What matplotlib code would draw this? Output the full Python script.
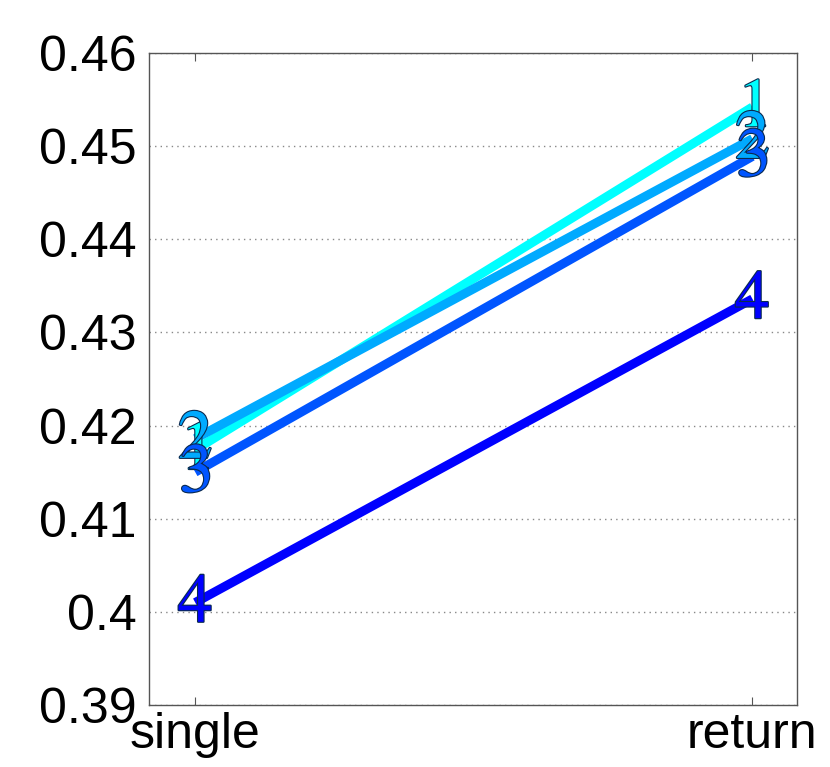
import matplotlib
matplotlib.use("Agg")
import matplotlib.pyplot as plt
import matplotlib.patheffects as pe

plt.rcParams["mathtext.fontset"] = "stix"

categories = ["single", "return"]
series_labels = ["1", "2", "3", "4"]
series_values = [
    [0.4174, 0.4542],
    [0.4186, 0.4508],
    [0.4150, 0.4489],
    [0.4010, 0.4336],
]
colors = ["#00ffff", "#00aaff", "#0055ff", "#0000ff"]
yticks = [0.39, 0.40, 0.41, 0.42, 0.43, 0.44, 0.45, 0.46]
ytick_labels = ["0.39", "0.4", "0.41", "0.42", "0.43", "0.44", "0.45", "0.46"]

fig = plt.figure(figsize=(8.30, 7.67), dpi=100)
ax = fig.add_axes([149/830, 1-705/767, (797-149)/830, (705-53)/767])

xs = [1, 2]
for vals, lab, col in zip(series_values, series_labels, colors):
    ax.plot(xs, vals, color=col, lw=6.5, solid_capstyle="butt", zorder=3)
for vals, lab, col in zip(series_values, series_labels, colors):
    for x, v in zip(xs, vals):
        ax.text(x, v, r"$\mathrm{" + lab + "}$", color=col, fontsize=50,
                ha="center", va="center", zorder=4,
                path_effects=[pe.Stroke(linewidth=1.6, foreground="#0a2a50"), pe.Normal()])

ax.set_xlim(0.917, 2.08)
ax.set_ylim(0.39, 0.46)
ax.set_xticks(xs)
ax.set_xticklabels(categories)
ax.set_yticks(yticks)
ax.set_yticklabels(ytick_labels)
ax.yaxis.grid(True, linestyle=(0, (1, 3)), color="#888888", lw=1)
ax.set_axisbelow(True)
ax.tick_params(axis="both", direction="in", length=6, width=0.8, color="#555555",
               top=True, right=True, labelsize=36, pad=5)
ax.tick_params(axis="y", length=0, pad=9)
for lab in ax.get_xticklabels() + ax.get_yticklabels():
    lab.set_family("Liberation Sans")
for s in ax.spines.values():
    s.set_color("#555555")
    s.set_linewidth(1)

fig.savefig("out.png", dpi=100)
